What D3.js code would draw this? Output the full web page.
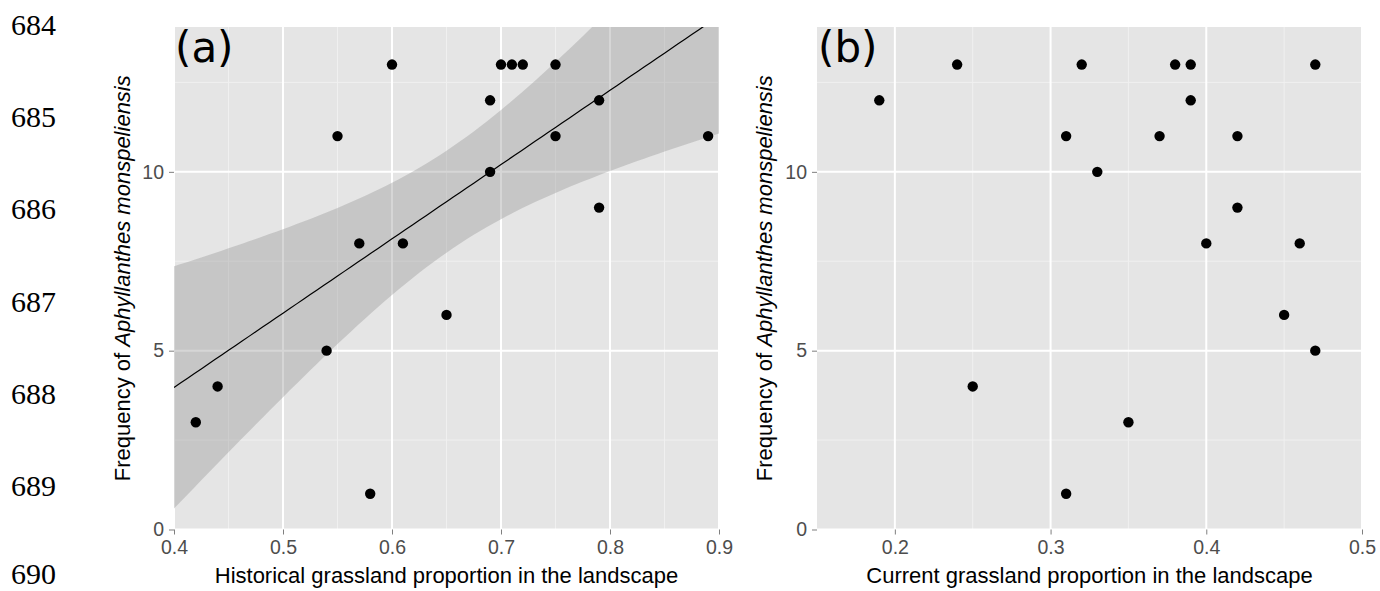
<!DOCTYPE html>
<html>
<head>
<meta charset="utf-8">
<script src="https://cdn.jsdelivr.net/npm/d3@7"></script>
<style>
body { margin: 0; background: #fff; }
text { font-family: "Liberation Sans", Arial, sans-serif; }
</style>
</head>
<body>
<svg id="chart" width="1380" height="591"></svg>
<script>
// manuscript line numbers down the left margin
var lineNumbers = ["684", "685", "686", "687", "688", "689", "690"];

// panel (a): historical grassland proportion vs frequency
var histX = [0.42, 0.44, 0.54, 0.55, 0.57, 0.58, 0.60, 0.61, 0.65, 0.69,
             0.69, 0.70, 0.71, 0.72, 0.75, 0.75, 0.79, 0.79, 0.89];
var histY = [3, 4, 5, 11, 8, 1, 13, 8, 6, 12, 10, 13, 13, 13, 13, 11, 12, 9, 11];

// panel (b): current grassland proportion vs frequency
var currX = [0.19, 0.24, 0.25, 0.31, 0.31, 0.32, 0.33, 0.35, 0.37, 0.38,
             0.39, 0.39, 0.40, 0.42, 0.42, 0.45, 0.46, 0.47, 0.47];
var currY = [12, 13, 4, 11, 1, 13, 10, 3, 11, 13, 13, 12, 8, 11, 9, 6, 8, 13, 5];

// ticks
var histTicks = [0.4, 0.5, 0.6, 0.7, 0.8, 0.9];
var histMinor = [0.45, 0.55, 0.65, 0.75, 0.85];
var currTicks = [0.2, 0.3, 0.4, 0.5];
var currMinor = [0.25, 0.35, 0.45];
var yTicks = [0, 5, 10];
var yMinor = [2.5, 7.5, 12.5];

// t quantile, 95%, df = 17
var tCrit = 2.1098;

var svg = d3.select("#chart");

var plotTop = 27, plotBottom = 529.5;
var yScale = d3.scaleLinear().domain([0, 14.05]).range([plotBottom, plotTop]);

// line numbers (last one sits right on the bottom edge)
svg.selectAll(".lineno")
  .data(lineNumbers)
  .enter().append("text")
  .attr("class", "lineno")
  .attr("x", 11)
  .attr("y", function(d, i) { return Math.min(35 + i * 92.2, 584); })
  .style("font-family", "'Liberation Serif', 'Times New Roman', serif")
  .style("font-size", "30px")
  .attr("fill", "#000")
  .text(function(d) { return d; });

drawPanel({
  id: "a", label: "(a)", x0: 174, x1: 719, domain: [0.4, 0.9],
  ticks: histTicks, minor: histMinor, xs: histX, ys: histY,
  title: "Historical grassland proportion in the landscape", yTitleX: 122, fit: true
});

drawPanel({
  id: "b", label: "(b)", x0: 817, x1: 1362, domain: [0.15, 0.5],
  ticks: currTicks, minor: currMinor, xs: currX, ys: currY,
  title: "Current grassland proportion in the landscape", yTitleX: 764, fit: false
});

function drawPanel(p) {
  var xScale = d3.scaleLinear().domain(p.domain).range([p.x0, p.x1]);
  var g = svg.append("g");

  svg.append("clipPath").attr("id", "clip-" + p.id)
    .append("rect")
    .attr("x", p.x0).attr("y", plotTop)
    .attr("width", p.x1 - p.x0).attr("height", plotBottom - plotTop);

  // background
  g.append("rect")
    .attr("x", p.x0).attr("y", plotTop)
    .attr("width", p.x1 - p.x0).attr("height", plotBottom - plotTop)
    .attr("fill", "#e5e5e5");

  // minor grid
  g.selectAll(".vminor").data(p.minor).enter().append("line")
    .attr("x1", xScale).attr("x2", xScale)
    .attr("y1", plotTop).attr("y2", plotBottom)
    .attr("stroke", "#f0f0f0").attr("stroke-width", 1);
  g.selectAll(".hminor").data(yMinor).enter().append("line")
    .attr("x1", p.x0).attr("x2", p.x1)
    .attr("y1", yScale).attr("y2", yScale)
    .attr("stroke", "#f0f0f0").attr("stroke-width", 1);

  // major grid
  g.selectAll(".vmajor").data(p.ticks).enter().append("line")
    .attr("x1", xScale).attr("x2", xScale)
    .attr("y1", plotTop).attr("y2", plotBottom)
    .attr("stroke", "#fff").attr("stroke-width", 2);
  g.selectAll(".hmajor").data(yTicks).enter().append("line")
    .attr("x1", p.x0).attr("x2", p.x1)
    .attr("y1", yScale).attr("y2", yScale)
    .attr("stroke", "#fff").attr("stroke-width", 2);

  // linear fit with 95% confidence band
  if (p.fit) {
    var n = p.xs.length;
    var mx = d3.mean(p.xs), my = d3.mean(p.ys);
    var sxx = 0, sxy = 0;
    p.xs.forEach(function(x, i) {
      sxx += (x - mx) * (x - mx);
      sxy += (x - mx) * (p.ys[i] - my);
    });
    var slope = sxy / sxx;
    var icpt = my - slope * mx;
    var sse = 0;
    p.xs.forEach(function(x, i) {
      var r = p.ys[i] - (icpt + slope * x);
      sse += r * r;
    });
    var s = Math.sqrt(sse / (n - 2));

    var grid = d3.range(0, 81).map(function(k) {
      var x = p.domain[0] + (p.domain[1] - p.domain[0]) * k / 80;
      var fit = icpt + slope * x;
      var se = s * Math.sqrt(1 / n + (x - mx) * (x - mx) / sxx);
      return {x: x, fit: fit, lo: fit - tCrit * se, hi: fit + tCrit * se};
    });

    var fg = g.append("g").attr("clip-path", "url(#clip-" + p.id + ")");
    fg.append("path")
      .datum(grid)
      .attr("d", d3.area()
        .x(function(d) { return xScale(d.x); })
        .y0(function(d) { return yScale(d.lo); })
        .y1(function(d) { return yScale(d.hi); }))
      .attr("fill", "#999").attr("fill-opacity", 0.4);
    fg.append("path")
      .datum(grid)
      .attr("d", d3.line()
        .x(function(d) { return xScale(d.x); })
        .y(function(d) { return yScale(d.fit); }))
      .attr("fill", "none").attr("stroke", "#000").attr("stroke-width", 1.2);
  }

  // points
  g.selectAll(".pt").data(p.xs).enter().append("circle")
    .attr("cx", function(d) { return xScale(d); })
    .attr("cy", function(d, i) { return yScale(p.ys[i]); })
    .attr("r", 5.2)
    .attr("fill", "#000");

  // axes
  var xAxis = d3.axisBottom(xScale).tickValues(p.ticks)
    .tickSize(5).tickPadding(6).tickFormat(d3.format(".1f"));
  var yAxis = d3.axisLeft(yScale).tickValues(yTicks)
    .tickSize(5).tickPadding(5).tickFormat(d3.format("d"));

  var xa = g.append("g").attr("transform", "translate(0," + plotBottom + ")").call(xAxis);
  var ya = g.append("g").attr("transform", "translate(" + p.x0 + ",0)").call(yAxis);
  [xa, ya].forEach(function(a) {
    a.select(".domain").remove();
    a.selectAll(".tick line").attr("stroke", "#7f7f7f");
    a.selectAll(".tick text")
      .attr("fill", "#4d4d4d")
      .style("font-size", "19.5px")
      .style("font-family", "'Liberation Sans', Arial, sans-serif");
  });

  // panel label
  g.append("text")
    .attr("x", p.x0 + 1).attr("y", 62)
    .style("font-family", "'DejaVu Sans', sans-serif")
    .style("font-size", "42px")
    .attr("fill", "#000")
    .text(p.label);

  // x title
  g.append("text")
    .attr("x", (p.x0 + p.x1) / 2).attr("y", 583)
    .attr("text-anchor", "middle")
    .style("font-size", "22px")
    .attr("fill", "#000")
    .text(p.title);

  // y title
  var yt = g.append("text")
    .attr("transform", "translate(" + p.yTitleX + "," + ((plotTop + plotBottom) / 2) + ") rotate(-90)")
    .attr("text-anchor", "middle")
    .attr("dy", "0.35em")
    .style("font-size", "22px")
    .attr("fill", "#000");
  yt.append("tspan").text("Frequency of ");
  yt.append("tspan").style("font-style", "italic").text("Aphyllanthes monspeliensis");
}
</script>
</body>
</html>
